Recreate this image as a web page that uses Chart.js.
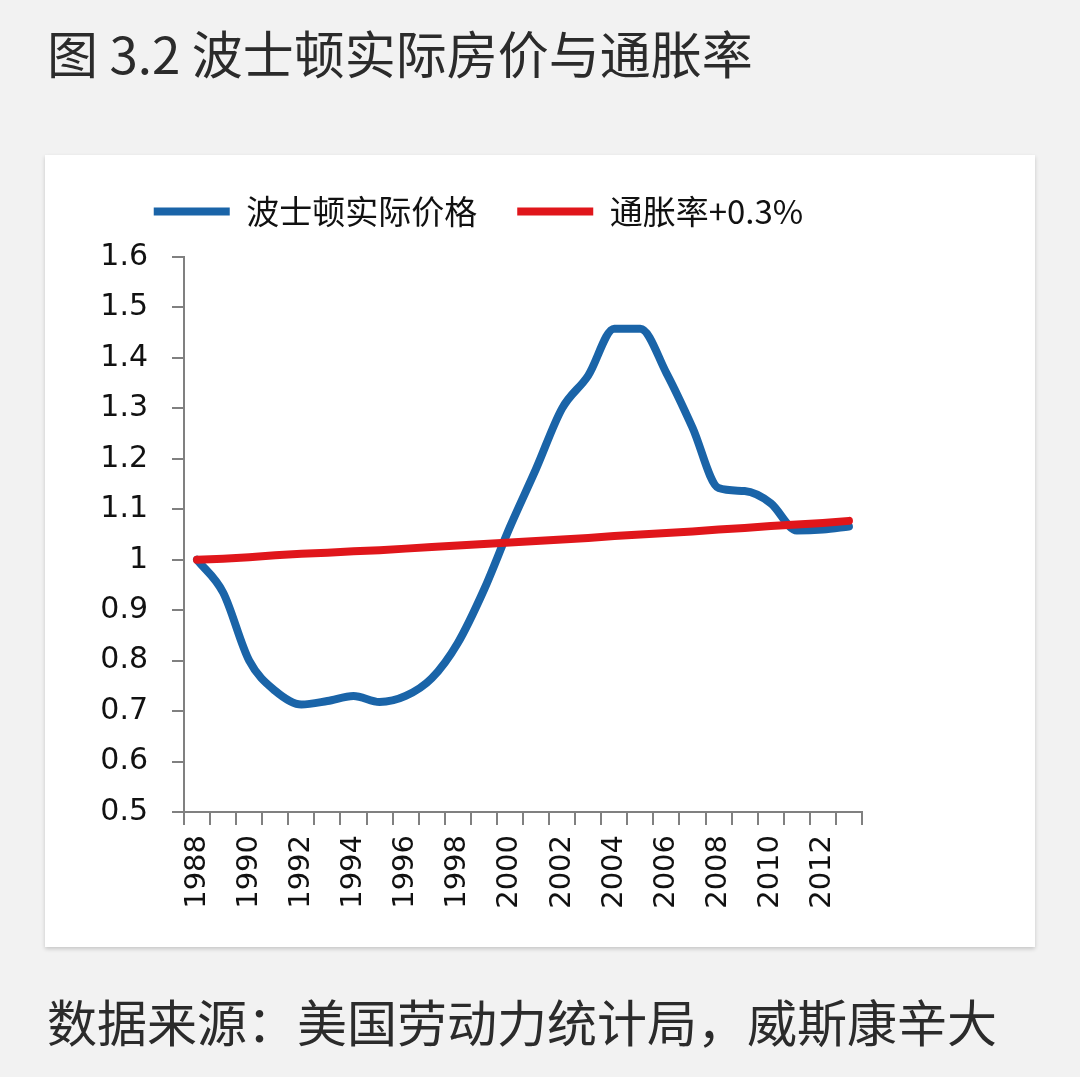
<!DOCTYPE html>
<html>
<head>
<meta charset="utf-8">
<script src="https://cdn.jsdelivr.net/npm/chart.js"></script>
<style>
  body { margin: 0; width: 1080px; height: 1081px; background: #f2f2f2; position: relative; overflow: hidden; }
  .title { position: absolute; left: 47px; top: 27px; font: 51px/1 "Noto Sans CJK SC", sans-serif; color: #2b2b2b; white-space: nowrap; }
  .card { position: absolute; left: 45px; top: 155px; width: 990px; height: 792px; background: #fff; box-shadow: 0 2px 4px rgba(0,0,0,0.18); }
  .source { position: absolute; left: 47px; top: 995px; font: 50px/1 "Noto Sans CJK SC", sans-serif; color: #2b2b2b; white-space: nowrap; }
  .strip { position: absolute; left: 0; top: 1077px; width: 1080px; height: 4px; background: #fff; }
</style>
</head>
<body>
<div class="title">图 3.2 波士顿实际房价与通胀率</div>
<div class="card"><canvas id="bostonChart" width="990" height="792"></canvas></div>
<div class="source">数据来源：美国劳动力统计局，威斯康辛大</div>
<div class="strip"></div>
<script>
  var years = ['1988','1989','1990','1991','1992','1993','1994','1995','1996','1997','1998','1999','2000',
               '2001','2002','2003','2004','2005','2006','2007','2008','2009','2010','2011','2012','2013'];
  var realPrice = [1.000, 0.935, 0.800, 0.740, 0.713, 0.720, 0.730, 0.718, 0.730, 0.765, 0.835, 0.940, 1.065,
                   1.180, 1.300, 1.365, 1.458, 1.458, 1.370, 1.262, 1.142, 1.136, 1.112, 1.058, 1.060, 1.066];
  var inflation = [1.000, 1.002, 1.005, 1.009, 1.012, 1.014, 1.017, 1.019, 1.022, 1.025, 1.028, 1.031, 1.034,
                   1.037, 1.040, 1.043, 1.047, 1.050, 1.053, 1.056, 1.060, 1.063, 1.067, 1.070, 1.073, 1.077];
  var seriesNames = ['波士顿实际价格', '通胀率+0.3%'];

  // push the plot area down below the legend
  var legendGap = {
    id: 'legendGap',
    beforeInit: function(chart) {
      var fit = chart.legend.fit;
      chart.legend.fit = function() {
        fit.bind(chart.legend)();
        this.height += 19;
      };
    }
  };

  var ctx = document.getElementById('bostonChart');
  var myChart = new Chart(ctx, {
    type: 'line',
    data: {
      labels: years,
      datasets: [{
        label: seriesNames[0],
        data: realPrice,
        borderColor: '#1a64a8',
        backgroundColor: '#1a64a8',
        borderWidth: 8,
        borderCapStyle: 'round',
        borderJoinStyle: 'round',
        pointRadius: 0,
        cubicInterpolationMode: 'monotone',
        order: 1
      }, {
        label: seriesNames[1],
        data: inflation,
        borderColor: '#e0161b',
        backgroundColor: '#e0161b',
        borderWidth: 8,
        borderCapStyle: 'round',
        pointRadius: 0,
        order: 0
      }]
    },
    options: {
      responsive: false,
      animation: false,
      layout: { padding: { left: 50, right: 173, top: 0, bottom: 0 } },
      plugins: {
        tooltip: { enabled: false },
        legend: {
          position: 'top',
          labels: {
            usePointStyle: true,
            pointStyle: 'line',
            pointStyleWidth: 76,
            padding: 40,
            color: '#111',
            font: { family: '"Noto Sans CJK SC"', size: 33 },
            sort: function(a, b) { return a.datasetIndex - b.datasetIndex; }
          }
        }
      },
      scales: {
        x: {
          offset: true,
          grid: { offset: true, drawOnChartArea: false, drawTicks: true, tickLength: 13, color: '#808080', lineWidth: 2 },
          border: { display: true, color: '#808080', width: 2 },
          ticks: {
            autoSkip: false,
            minRotation: 90,
            maxRotation: 90,
            padding: 10,
            color: '#111',
            font: { family: '"DejaVu Sans"', size: 29 },
            callback: function(value, index) { return index % 2 === 0 ? years[index] : ''; }
          },
          afterFit: function(scale) { scale.height = 135; }
        },
        y: {
          min: 0.5,
          max: 1.6,
          grid: { drawOnChartArea: false, drawTicks: true, tickLength: 12, color: '#808080', lineWidth: 2 },
          border: { display: true, color: '#808080', width: 2 },
          ticks: {
            stepSize: 0.1,
            padding: 24,
            color: '#111',
            font: { family: '"DejaVu Sans"', size: 30 },
            callback: function(value) { return Math.round(value * 10) / 10; }
          },
          afterFit: function(scale) { scale.width = 89; }
        }
      }
    },
    plugins: [legendGap]
  });
</script>
</body>
</html>
